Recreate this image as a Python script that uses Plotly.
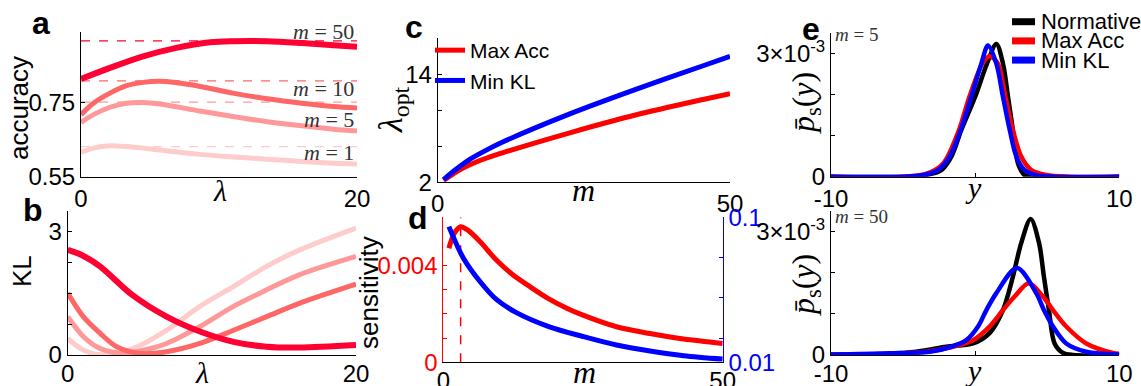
import plotly.graph_objects as go

W, H = 1141, 386

# ---------------- data ----------------
# panel a : accuracy vs lambda
lam_a = {
    1:  [0, 0.9, 2.1, 3.3, 5.7, 8.6, 11, 13.5, 16, 18.3, 20],
    5:  [0, 0.9, 2.1, 3.3, 4.5, 5.7, 8.6, 11, 13.5, 16, 18.3, 20],
    10: [0, 0.9, 2.1, 3.3, 4.5, 5.7, 8.1, 11, 13.5, 16, 18.3, 20],
    50: [0, 2.1, 4.5, 6.9, 9.35, 11, 13.5, 16, 18.3, 20],
}
acc_a = {
    1:  [0.616, 0.628, 0.634, 0.632, 0.623, 0.611, 0.604, 0.598, 0.592, 0.587, 0.585],
    5:  [0.697, 0.718, 0.738, 0.749, 0.751, 0.747, 0.728, 0.713, 0.699, 0.688, 0.679, 0.674],
    10: [0.718, 0.749, 0.776, 0.796, 0.805, 0.808, 0.798, 0.776, 0.761, 0.749, 0.740, 0.736],
    50: [0.814, 0.844, 0.875, 0.898, 0.913, 0.916, 0.916, 0.911, 0.905, 0.901],
}
acc_peak = {1: 0.632, 5: 0.752, 10: 0.809, 50: 0.917}
m_values = [1, 5, 10, 50]

# panel b : KL vs lambda
lam_b = {
    1:  [0, 1.08, 2.24, 4.5, 6.86, 9.17, 11.5, 13.8, 16.1, 20],
    5:  [0, 1.08, 2.24, 3.8, 5, 6.86, 9.17, 11.5, 13.8, 16.1, 20],
    10: [0, 1.08, 2.24, 3.4, 5, 6.86, 9.17, 11.5, 13.8, 16.1, 20],
    50: [0, 1, 2.24, 4.5, 6.86, 9.17, 11.5, 13.8, 16.1, 20],
}
kl_b = {
    1:  [0.4, 0.12, 0.01, 0.15, 0.6, 1.18, 1.66, 2.15, 2.55, 3.08],
    5:  [0.93, 0.45, 0.16, 0.04, 0.1, 0.28, 0.69, 1.18, 1.58, 1.95, 2.39],
    10: [1.5, 0.93, 0.53, 0.2, 0.04, 0.08, 0.28, 0.6, 0.93, 1.26, 1.72],
    50: [2.55, 2.42, 2.15, 1.45, 0.93, 0.57, 0.32, 0.2, 0.18, 0.24],
}

# panel c : optimal lambda vs m
m_c = [1, 3.25, 5.5, 8.4, 11.2, 22.6, 34, 45.4, 50]
lamopt_acc = [2.2, 3.2, 3.95, 4.7, 5.3, 7.5, 9.5, 11.2, 11.85]
lamopt_kl = [2.3, 3.5, 4.55, 5.6, 6.5, 9.6, 12.35, 14.95, 16.0]

# panel d : sensitivity vs m
m_d_acc = [1, 2, 3.1, 4.5, 6.6, 9.5, 12.5, 15.5, 18.5, 22, 25, 31, 37, 43, 50]
sens_acc = [0.00472, 0.00535, 0.00561, 0.00545, 0.00499, 0.00423, 0.00361, 0.00313,
            0.00268, 0.00225, 0.00195, 0.00147, 0.00119, 0.00096, 0.00078]
m_d_kl = [1, 3.6, 6.6, 9.5, 13, 19, 25, 31, 37, 43, 50]
sens_kl = [0.0942, 0.0746, 0.060, 0.049, 0.041, 0.032, 0.026, 0.0207, 0.017, 0.0141, 0.012]
m_peak_d = 3.1

# panel e : distributions (values in units of 1e-3)
y_top_norm = [-10, -4.5, -3.4, -2.35, -1.65, -0.96, 0, 0.82, 1.47, 1.93, 2.28, 2.62, 2.97, 3.43, 4, 10]
p_top_norm = [0, 0, 0.04, 0.16, 0.49, 1.14, 1.95, 2.76, 3.24, 2.76, 1.95, 1.14, 0.33, 0.04, 0, 0]
y_top_acc = [-10, -5, -3.3, -2.2, -1.12, -0.4, 0.5, 1.0, 1.58, 2.1, 2.62, 3.2, 3.9, 4.94, 6.5, 10]
p_top_acc = [0, 0, 0.08, 0.33, 1.14, 1.95, 2.76, 2.94, 2.76, 1.95, 1.14, 0.49, 0.16, 0.04, 0, 0]
y_top_kl = [-10, -5, -3.6, -2.58, -1.77, -1.0, -0.27, 0.43, 0.89, 1.47, 1.93, 2.4, 2.86, 3.43, 4.24, 5.5, 10]
p_top_kl = [0, 0, 0.04, 0.16, 0.49, 1.14, 1.95, 2.76, 3.2, 2.76, 1.95, 1.14, 0.49, 0.16, 0.04, 0, 0]

y_bot_norm = [-10, -6, -4.1, -2.0, -0.15, 1.0, 1.93, 2.62, 3.2, 3.85, 4.43, 4.77, 5.12, 5.51, 6.1, 6.8, 10]
p_bot_norm = [0, 0.03, 0.08, 0.2, 0.28, 0.53, 1.09, 1.9, 2.72, 3.30, 2.72, 1.9, 1.09, 0.28, 0.05, 0, 0]
y_bot_acc = [-10, -6, -3.4, -1.54, -0.15, 1.0, 1.93, 2.74, 3.73, 4.7, 5.4, 6.32, 7.71, 9.56, 10]
p_bot_acc = [0.01, 0.03, 0.08, 0.2, 0.36, 0.69, 1.09, 1.42, 1.74, 1.42, 1.09, 0.69, 0.28, 0.05, 0.03]
y_bot_kl = [-10, -6, -3.15, -1.65, -0.61, 0.2, 0.78, 1.47, 2.9, 4.24, 4.77, 5.4, 6.32, 7.71, 10]
p_bot_kl = [0.01, 0.04, 0.08, 0.2, 0.36, 0.69, 1.09, 1.5, 2.11, 1.5, 1.09, 0.69, 0.28, 0.08, 0.01]

e_legend_names = ['Normative', 'Max Acc', 'Min KL']

# ---------------- styling ----------------
m_colors = {1: '#FFCCCC', 5: '#FF9999', 10: '#FF6666', 50: '#FF0033'}
m_widths = {1: 5, 5: 5, 10: 5, 50: 6}
RED, BLUE, BLACK = '#FF0000', '#0000FF', '#000000'
e_colors = [BLACK, RED, BLUE]
SANS = 'Liberation Sans, Arial, sans-serif'
SERIF = 'Liberation Serif, Times New Roman, serif'


def px(x):
    return x / W


def py(y):
    return 1 - y / H


def axis(domain, rng, tickvals, ticktext, anchor, color='black', **kw):
    d = dict(domain=domain, range=rng, tickvals=tickvals, ticktext=ticktext,
             anchor=anchor, showline=True, linecolor=color, linewidth=1,
             ticks='inside', ticklen=4, tickcolor=color, showgrid=False,
             zeroline=False, tickfont=dict(family=SANS, size=24, color=color),
             fixedrange=True, automargin=False)
    d.update(kw)
    return d


fig = go.Figure()


def sp(x, y, xa, ya, color, width, dash='solid', name=None, legend=None, showlegend=False):
    fig.add_trace(go.Scatter(
        x=x, y=y, xaxis=xa, yaxis=ya, mode='lines',
        line=dict(color=color, width=width, dash=dash, shape='spline', smoothing=0.9),
        name=name, showlegend=showlegend, legend=legend, hoverinfo='skip'))


# panel a
for m in m_values:
    sp([0, 20], [acc_peak[m], acc_peak[m]], 'x', 'y', m_colors[m], 1.3, dash='dash')
for m in m_values:
    sp(lam_a[m], acc_a[m], 'x', 'y', m_colors[m], m_widths[m])

# panel b
for m in m_values:
    sp(lam_b[m], kl_b[m], 'x2', 'y2', m_colors[m], m_widths[m])

# panel c
sp(m_c, lamopt_acc, 'x3', 'y3', RED, 5, name='Max Acc', legend='legend', showlegend=True)
sp(m_c, lamopt_kl, 'x3', 'y3', BLUE, 5, name='Min KL', legend='legend', showlegend=True)

# panel d
sp([m_peak_d, m_peak_d], [0, 0.006], 'x4', 'y4', RED, 1.5, dash='dash')
sp(m_d_acc, sens_acc, 'x4', 'y4', RED, 5)
sp(m_d_kl, sens_kl, 'x4', 'y7', BLUE, 5)

# panel e
sc = 1e-3
sp(y_top_norm, [v * sc for v in p_top_norm], 'x5', 'y5', BLACK, 4.5)
sp(y_top_acc, [v * sc for v in p_top_acc], 'x5', 'y5', RED, 4.5)
sp(y_top_kl, [v * sc for v in p_top_kl], 'x5', 'y5', BLUE, 4.5)
sp(y_bot_norm, [v * sc for v in p_bot_norm], 'x6', 'y6', BLACK, 4.5)
sp(y_bot_acc, [v * sc for v in p_bot_acc], 'x6', 'y6', RED, 4.5)
sp(y_bot_kl, [v * sc for v in p_bot_kl], 'x6', 'y6', BLUE, 4.5)

# ---------------- layout ----------------
dom_a = ([px(81), px(357)], [py(177), py(32.3)])
dom_b = ([px(67.7), px(356)], [py(355), py(210.7)])
dom_c = ([px(437.7), px(730)], [py(182.3), py(38.3)])
dom_d = ([px(443.3), px(722.7)], [py(362.3), py(217.3)])
dom_e1 = ([px(831), px(1119.3)], [py(176.7), py(33.3)])
dom_e2 = ([px(831), px(1119.3)], [py(355), py(210.7)])

e_ticks = [0, 0.001, 0.002, 0.003]
e_text = ['0', '', '', '3×10<sup>-3</sup>']

layout = dict(
    width=W, height=H, margin=dict(l=0, r=0, t=0, b=0, pad=0, autoexpand=False),
    paper_bgcolor='white', plot_bgcolor='white',
    xaxis=axis(dom_a[0], [0, 20], [0, 20], ['0', '20'], 'y'),
    yaxis=axis(dom_a[1], [0.55, 0.94], [0.55, 0.75], ['0.55', '0.75'], 'x'),
    xaxis2=axis(dom_b[0], [0, 20], [0, 20], ['0', '20'], 'y2', ticklabelstandoff=-3),
    yaxis2=axis(dom_b[1], [0, 3.5], [0, 0.75, 1.5, 2.25, 3], ['0', '', '', '', '3'], 'x2'),
    xaxis3=axis(dom_c[0], [0, 50], [0, 50], ['0', '50'], 'y3'),
    yaxis3=axis(dom_c[1], [2, 18], [2, 6, 10, 14], ['2', '', '', '14'], 'x3'),
    xaxis4=axis(dom_d[0], [0, 50], [0, 50], ['0', '50'], 'y4', ticklabelstandoff=-3),
    yaxis4=axis(dom_d[1], [0, 0.006], [0, 0.001, 0.002, 0.003, 0.004], ['0', '', '', '', '0.004'], 'x4', color=RED),
    yaxis7=axis(dom_d[1], [0.01, 0.1], [0.01, 0.025, 0.05, 0.075, 0.1], ['0.01', '', '', '', '0.1'], 'x4',
                color=BLUE, overlaying='y4', side='right'),
    xaxis5=axis(dom_e1[0], [-10, 10], [-10, 0, 10], ['-10', '', '10'], 'y5'),
    yaxis5=axis(dom_e1[1], [0, 0.0035], e_ticks, e_text, 'x5'),
    xaxis6=axis(dom_e2[0], [-10, 10], [-10, 0, 10], ['-10', '', '10'], 'y6', ticklabelstandoff=-3),
    yaxis6=axis(dom_e2[1], [0, 0.0035], e_ticks, e_text, 'x6'),
    legend=dict(x=px(430), y=py(30), xanchor='left', yanchor='top',
                font=dict(family=SANS, size=21, color='black'),
                bgcolor='rgba(0,0,0,0)', borderwidth=0, tracegroupgap=0, itemwidth=30),
)
fig.update_layout(**layout)


def ann(text, x, y, size, family=SANS, color='black', angle=0, xanchor='center', yanchor='middle', **kw):
    fig.add_annotation(text=text, x=px(x), y=py(y), xref='paper', yref='paper',
                       showarrow=False, textangle=angle, xanchor=xanchor, yanchor=yanchor,
                       font=dict(family=family, size=size, color=color), **kw)


# legend of panel e (swatch + label rows)
for i, (nm, col) in enumerate(zip(e_legend_names, e_colors)):
    yy = 21.7 + 19.2 * i
    fig.add_shape(type='line', xref='paper', yref='paper', x0=px(1012), x1=px(1035),
                  y0=py(yy), y1=py(yy), line=dict(color=col, width=7))
    ann(nm, 1039, yy, 22, xanchor='left')

# panel letters
for letter, (lx, ly) in {'a': (41, 23), 'b': (33, 210), 'c': (414, 27), 'd': (418, 218), 'e': (811, 29)}.items():
    ann(f'<b>{letter}</b>', lx, ly, 32)

# axis titles
ann('accuracy', 19, 108, 26, angle=-90)
ann('KL', 22, 271, 26, angle=-90)
ann('<i>λ</i>', 220, 190, 30, family=SERIF)
ann('<i>λ</i>', 202, 372, 30, family=SERIF)
ann('<i>λ</i><sub>opt</sub>', 393, 110, 34, family=SERIF, angle=-90)
ann('<i>m</i>', 583, 190, 32, family=SERIF)
ann('sensitivity', 369, 293, 26, angle=-90)
ann('<i>m</i>', 584, 372, 32, family=SERIF)
ann('<i>p̄</i><sub>s</sub>(<i>y</i>)', 805, 103, 32, family=SERIF, angle=-90)
ann('<i>p̄</i><sub>s</sub>(<i>y</i>)', 805, 285, 32, family=SERIF, angle=-90)
ann('<i>y</i>', 973, 188, 30, family=SERIF)
ann('<i>y</i>', 973, 370, 30, family=SERIF)

# m labels
ann('<i>m</i> = 50', 356, 32, 22, family=SERIF, color='#333333', xanchor='right')
ann('<i>m</i> = 10', 356, 89, 22, family=SERIF, color='#333333', xanchor='right')
ann('<i>m</i> = 5', 356, 119, 22, family=SERIF, color='#333333', xanchor='right')
ann('<i>m</i> = 1', 356, 152, 22, family=SERIF, color='#333333', xanchor='right')
ann('<i>m</i> = 5', 833, 35, 19, family=SERIF, color='#333333', xanchor='left')
ann('<i>m</i> = 50', 833, 216, 19, family=SERIF, color='#333333', xanchor='left')

fig.write_html('out.html', config={'displayModeBar': False},
               post_script="document.body.style.margin='0px';")
